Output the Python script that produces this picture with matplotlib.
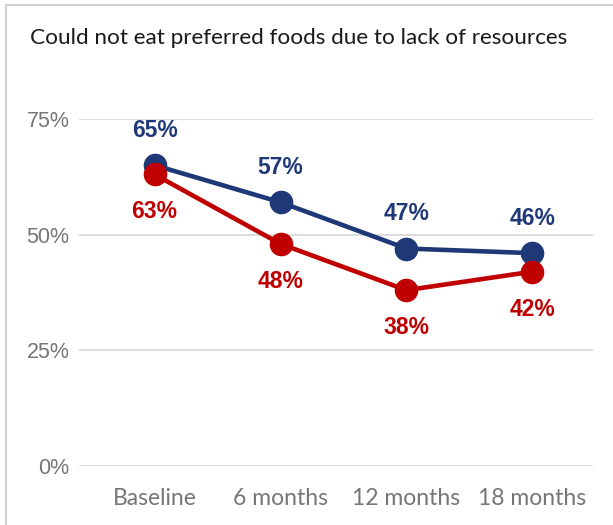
import matplotlib
matplotlib.use("Agg")
import matplotlib.pyplot as plt
from matplotlib.lines import Line2D
from matplotlib.ticker import FuncFormatter

categories = ["Baseline", "6 months", "12 months", "18 months"]
series_blue = [0.65, 0.57, 0.47, 0.46]
series_red = [0.63, 0.48, 0.38, 0.42]
yticks = [0, 0.25, 0.5, 0.75]
title = "Could not eat preferred foods due to lack of resources"

plt.rcParams['font.family'] = ['Lato', 'DejaVu Sans']

BLUE = "#1F3878"
RED = "#C00000"
GRAY = "#767676"
ARIAL = ['Liberation Sans', 'DejaVu Sans']

fig = plt.figure(figsize=(6.13, 5.25), dpi=100)
ax = fig.add_axes([0.129, 0.1124, 0.838, 0.6610])

x = list(range(len(categories)))
ax.plot(x, series_blue, color=BLUE, lw=3.3, marker='o', ms=16, clip_on=False, zorder=3)
ax.plot(x, series_red, color=RED, lw=3.3, marker='o', ms=16, clip_on=False, zorder=4)

for xi, v in zip(x, series_blue):
    ax.annotate(f"{v:.0%}", (xi, v), xytext=(0, 25), textcoords='offset points',
                ha='center', va='center', color=BLUE, fontsize=16.5, fontweight='bold',
                family=ARIAL)
for xi, v in zip(x, series_red):
    ax.annotate(f"{v:.0%}", (xi, v), xytext=(0, -27), textcoords='offset points',
                ha='center', va='center', color=RED, fontsize=16.5, fontweight='bold',
                family=ARIAL)

ax.set_xlim(-0.6, 3.48)
ax.set_ylim(0, 0.75)
ax.set_yticks(yticks)
ax.yaxis.set_major_formatter(FuncFormatter(lambda v, p: f"{v:.0%}"))
ax.set_xticks(x)
ax.set_xticklabels(categories)
ax.grid(axis='y', color='#D9D9D9', lw=1.3)
ax.set_axisbelow(True)
for s in ax.spines.values():
    s.set_visible(False)
ax.tick_params(axis='both', length=0, colors=GRAY)
ax.tick_params(axis='y', pad=7, labelsize=15.5)
ax.tick_params(axis='x', pad=16, labelsize=16.5)
for lab in ax.get_yticklabels():
    lab.set_family(ARIAL)

fig.text(30/613, 1-38/525, title, fontsize=16.2, color='#1a1a1a', ha='left', va='center')

# frame lines (left and top)
fig.add_artist(Line2D([6/613, 6/613], [0, 1-5/525], color='#D0D0D0', lw=1.5, transform=fig.transFigure))
fig.add_artist(Line2D([6/613, 1], [1-5/525, 1-5/525], color='#D0D0D0', lw=1.5, transform=fig.transFigure))

fig.savefig("out.png", dpi=100)
